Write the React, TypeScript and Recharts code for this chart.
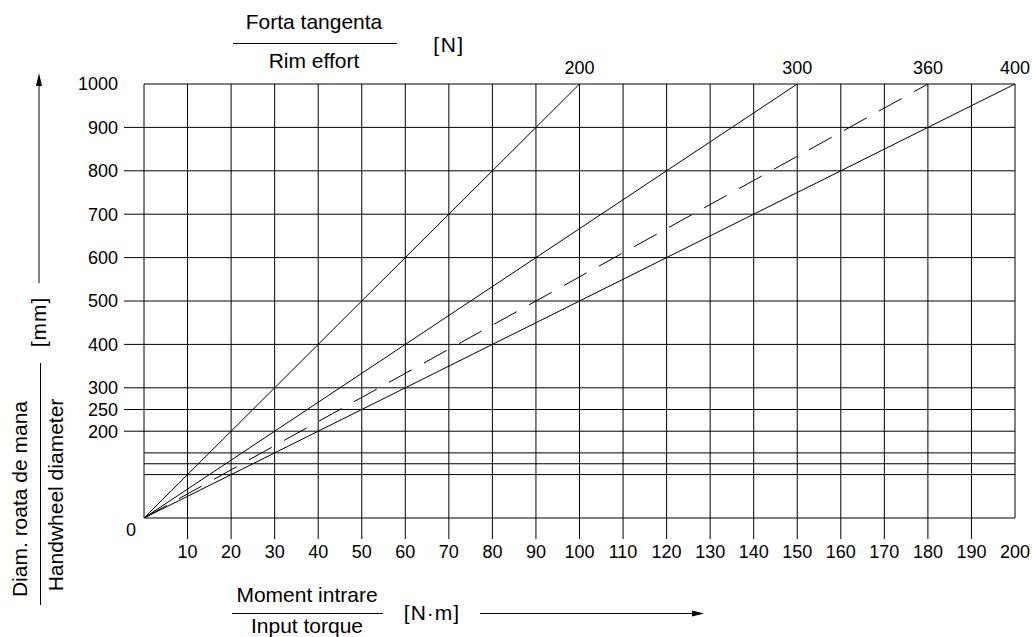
import React from 'react';
import { LineChart, Line, XAxis, YAxis, ReferenceLine, ReferenceDot } from 'recharts';

// Rim effort [N] for each line, and the input torque [N·m] where each reaches 1000 mm
const rimEfforts = [200, 300, 360, 400];
const endTorques = [100, 150, 180, 200];
const endDiameters = [1000, 1000, 1000, 1000];
const dashedLines = [false, false, true, false];

const xTicks = [10, 20, 30, 40, 50, 60, 70, 80, 90, 100, 110, 120, 130, 140, 150, 160, 170, 180, 190, 200];
const yTicks = [0, 200, 250, 300, 400, 500, 600, 700, 800, 900, 1000];
const hGrid = [0, 100, 125, 150, 200, 250, 300, 400, 500, 600, 700, 800, 900, 1000];
const vGrid = [0, 10, 20, 30, 40, 50, 60, 70, 80, 90, 100, 110, 120, 130, 140, 150, 160, 170, 180, 190, 200];

const FONT = '"Liberation Sans", Arial, sans-serif';
const W = 1032;
const H = 637;

const YTick = (props: any) => {
  const { x, y, payload } = props;
  const v = payload.value;
  if (v === 0) {
    return (
      <text x={x - 13} y={y + 12} textAnchor="middle" dy="0.355em" fontSize={18} fontFamily={FONT} fill="#000">
        0
      </text>
    );
  }
  return (
    <g>
      {v !== 1000 && <line x1={x - 20} x2={x} y1={y} y2={y} stroke="#000" strokeWidth={1} />}
      <text x={x - 26} y={y} textAnchor="end" dy="0.355em" fontSize={18} fontFamily={FONT} fill="#000">
        {v}
      </text>
    </g>
  );
};

const XTick = (props: any) => {
  const { x, y, payload } = props;
  const v = payload.value;
  return (
    <g>
      {v !== 200 && <line x1={x} x2={x} y1={y} y2={y + 21} stroke="#000" strokeWidth={1} />}
      <text x={x} y={y + 34} textAnchor="middle" dy="0.355em" fontSize={18} fontFamily={FONT} fill="#000">
        {v}
      </text>
    </g>
  );
};

export default function App() {
  const t = { fontFamily: FONT, fontSize: 21, fill: '#000' } as any;
  return (
    <div style={{ position: 'absolute', left: 0, top: 0, width: W, height: H, background: '#fff' }}>
      <LineChart
        width={W}
        height={H}
        margin={{ top: 84, left: 84, right: 17, bottom: 79 }}
        style={{ fontFamily: FONT }}
      >
        <XAxis
          type="number"
          dataKey="t"
          domain={[0, 200]}
          ticks={xTicks}
          interval={0}
          axisLine={false}
          tickLine={false}
          tickSize={0}
          tickMargin={0}
          height={40}
          tick={<XTick />}
          allowDataOverflow
        />
        <YAxis
          type="number"
          dataKey="d"
          domain={[0, 1000]}
          ticks={yTicks}
          interval={0}
          axisLine={false}
          tickLine={false}
          tickSize={0}
          tickMargin={0}
          width={60}
          tick={<YTick />}
          allowDataOverflow
        />
        {hGrid.map((v) => (
          <ReferenceLine key={'h' + v} y={v} stroke="#000" strokeWidth={1} />
        ))}
        {vGrid.map((v) => (
          <ReferenceLine key={'v' + v} x={v} stroke="#000" strokeWidth={1} />
        ))}
        {rimEfforts.map((f, i) => (
          <Line
            key={'l' + f}
            data={[
              { t: 0, d: 0 },
              { t: endTorques[i], d: endDiameters[i] },
            ]}
            dataKey="d"
            stroke="#000"
            strokeWidth={1}
            strokeDasharray={dashedLines[i] ? '26 14' : undefined}
            dot={false}
            activeDot={false}
            isAnimationActive={false}
          />
        ))}
        {rimEfforts.map((f, i) => (
          <ReferenceDot
            key={'d' + f}
            x={endTorques[i]}
            y={endDiameters[i]}
            r={1}
            fill="none"
            stroke="none"
            label={{ value: String(f), position: 'top', offset: 9, fill: '#000', fontSize: 18, fontFamily: FONT }}
          />
        ))}
      </LineChart>
      <svg
        width={W}
        height={H}
        style={{ position: 'absolute', left: 0, top: 0, pointerEvents: 'none' }}
      >
        {/* top title */}
        <text x={314} y={29} textAnchor="middle" {...t}>Forta tangenta</text>
        <line x1={233} x2={397} y1={43.5} y2={43.5} stroke="#000" strokeWidth={1} />
        <text x={314} y={68} textAnchor="middle" {...t}>Rim effort</text>
        <text x={449} y={52} textAnchor="middle" {...t} letterSpacing={1.5}>[N]</text>

        {/* bottom title */}
        <text x={307} y={602} textAnchor="middle" {...t}>Moment intrare</text>
        <line x1={232} x2={383} y1={613.5} y2={613.5} stroke="#000" strokeWidth={1} />
        <text x={307} y={633} textAnchor="middle" {...t}>Input torque</text>
        <text x={432} y={620} textAnchor="middle" {...t} letterSpacing={1}>[N·m]</text>
        <line x1={480} x2={695} y1={613.5} y2={613.5} stroke="#000" strokeWidth={1} />
        <polygon points="704,613.5 692,610.5 692,616.5" fill="#000" />

        {/* left title */}
        <line x1={39} x2={39} y1={283} y2={84} stroke="#000" strokeWidth={1} />
        <polygon points="39,73 36,86 42,86" fill="#000" />
        <text
          x={38}
          y={322}
          textAnchor="middle"
          dominantBaseline="central"
          transform="rotate(-90 38 322)"
          {...t}
          letterSpacing={1}
        >
          [mm]
        </text>
        <text
          x={19}
          y={499}
          textAnchor="middle"
          dominantBaseline="central"
          transform="rotate(-90 19 499)"
          {...t}
        >
          Diam. roata de mana
        </text>
        <line x1={40.5} x2={40.5} y1={363} y2={605} stroke="#000" strokeWidth={1} />
        <text
          x={55}
          y={495}
          textAnchor="middle"
          dominantBaseline="central"
          transform="rotate(-90 55 495)"
          {...t}
        >
          Handwheel diameter
        </text>
      </svg>
    </div>
  );
}
